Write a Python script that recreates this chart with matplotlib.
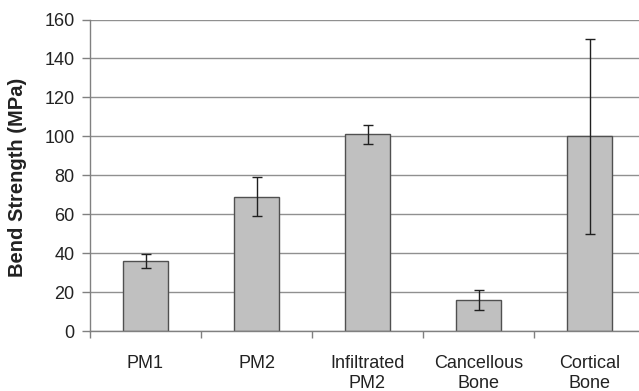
import numpy as np
import matplotlib.pyplot as plt
from matplotlib.ticker import FixedLocator

plt.rcParams['font.family'] = ['Liberation Sans', 'DejaVu Sans']

# bend strength data
materials = ['PM1', 'PM2', 'Infiltrated\nPM2', 'Cancellous\nBone', 'Cortical\nBone']
strength = [36, 69, 101, 16, 100]
strength_err = [3.5, 10, 5, 5, 50]
y_ticks = [0, 20, 40, 60, 80, 100, 120, 140, 160]

fig = plt.figure(figsize=(6.39, 3.91), dpi=100)
ax = fig.add_axes([90 / 639, 60 / 391, 555 / 639, 311.5 / 391])

x = np.arange(len(materials))
ax.bar(x, strength, width=0.41, color='#c0c0c0', edgecolor='#505050', linewidth=1.0, zorder=2)
ax.errorbar(x, strength, yerr=strength_err, fmt='none', ecolor='#202020',
            elinewidth=1.0, capsize=3.5, capthick=1.0, zorder=3)

ax.set_xlim(-0.5, len(materials) - 0.5)
ax.set_ylim(0, 160)
ax.set_yticks(y_ticks)
ax.yaxis.grid(True, color='#909090', linewidth=1.0, zorder=0)
ax.set_axisbelow(True)

ax.set_xticks(x)
ax.set_xticklabels(materials, fontsize=13, color='#222222', linespacing=1.25)
ax.xaxis.set_minor_locator(FixedLocator(np.arange(-0.5, len(materials), 1.0)))
ax.tick_params(axis='x', which='major', length=0, pad=17)
ax.tick_params(axis='x', which='minor', length=5, width=1.0, color='#808080', direction='out')
ax.tick_params(axis='y', length=6, width=1.0, color='#808080', labelsize=13,
               labelcolor='#222222', pad=5)

for side in ['top', 'right']:
    ax.spines[side].set_visible(False)
for side in ['left', 'bottom']:
    ax.spines[side].set_color('#808080')
    ax.spines[side].set_linewidth(1.0)

ax.set_ylabel('Bend Strength (MPa)', fontsize=14.5, fontweight='bold', color='#222222')
ax.yaxis.set_label_coords(-0.113, 0.494)

fig.savefig('out.png', dpi=100)
